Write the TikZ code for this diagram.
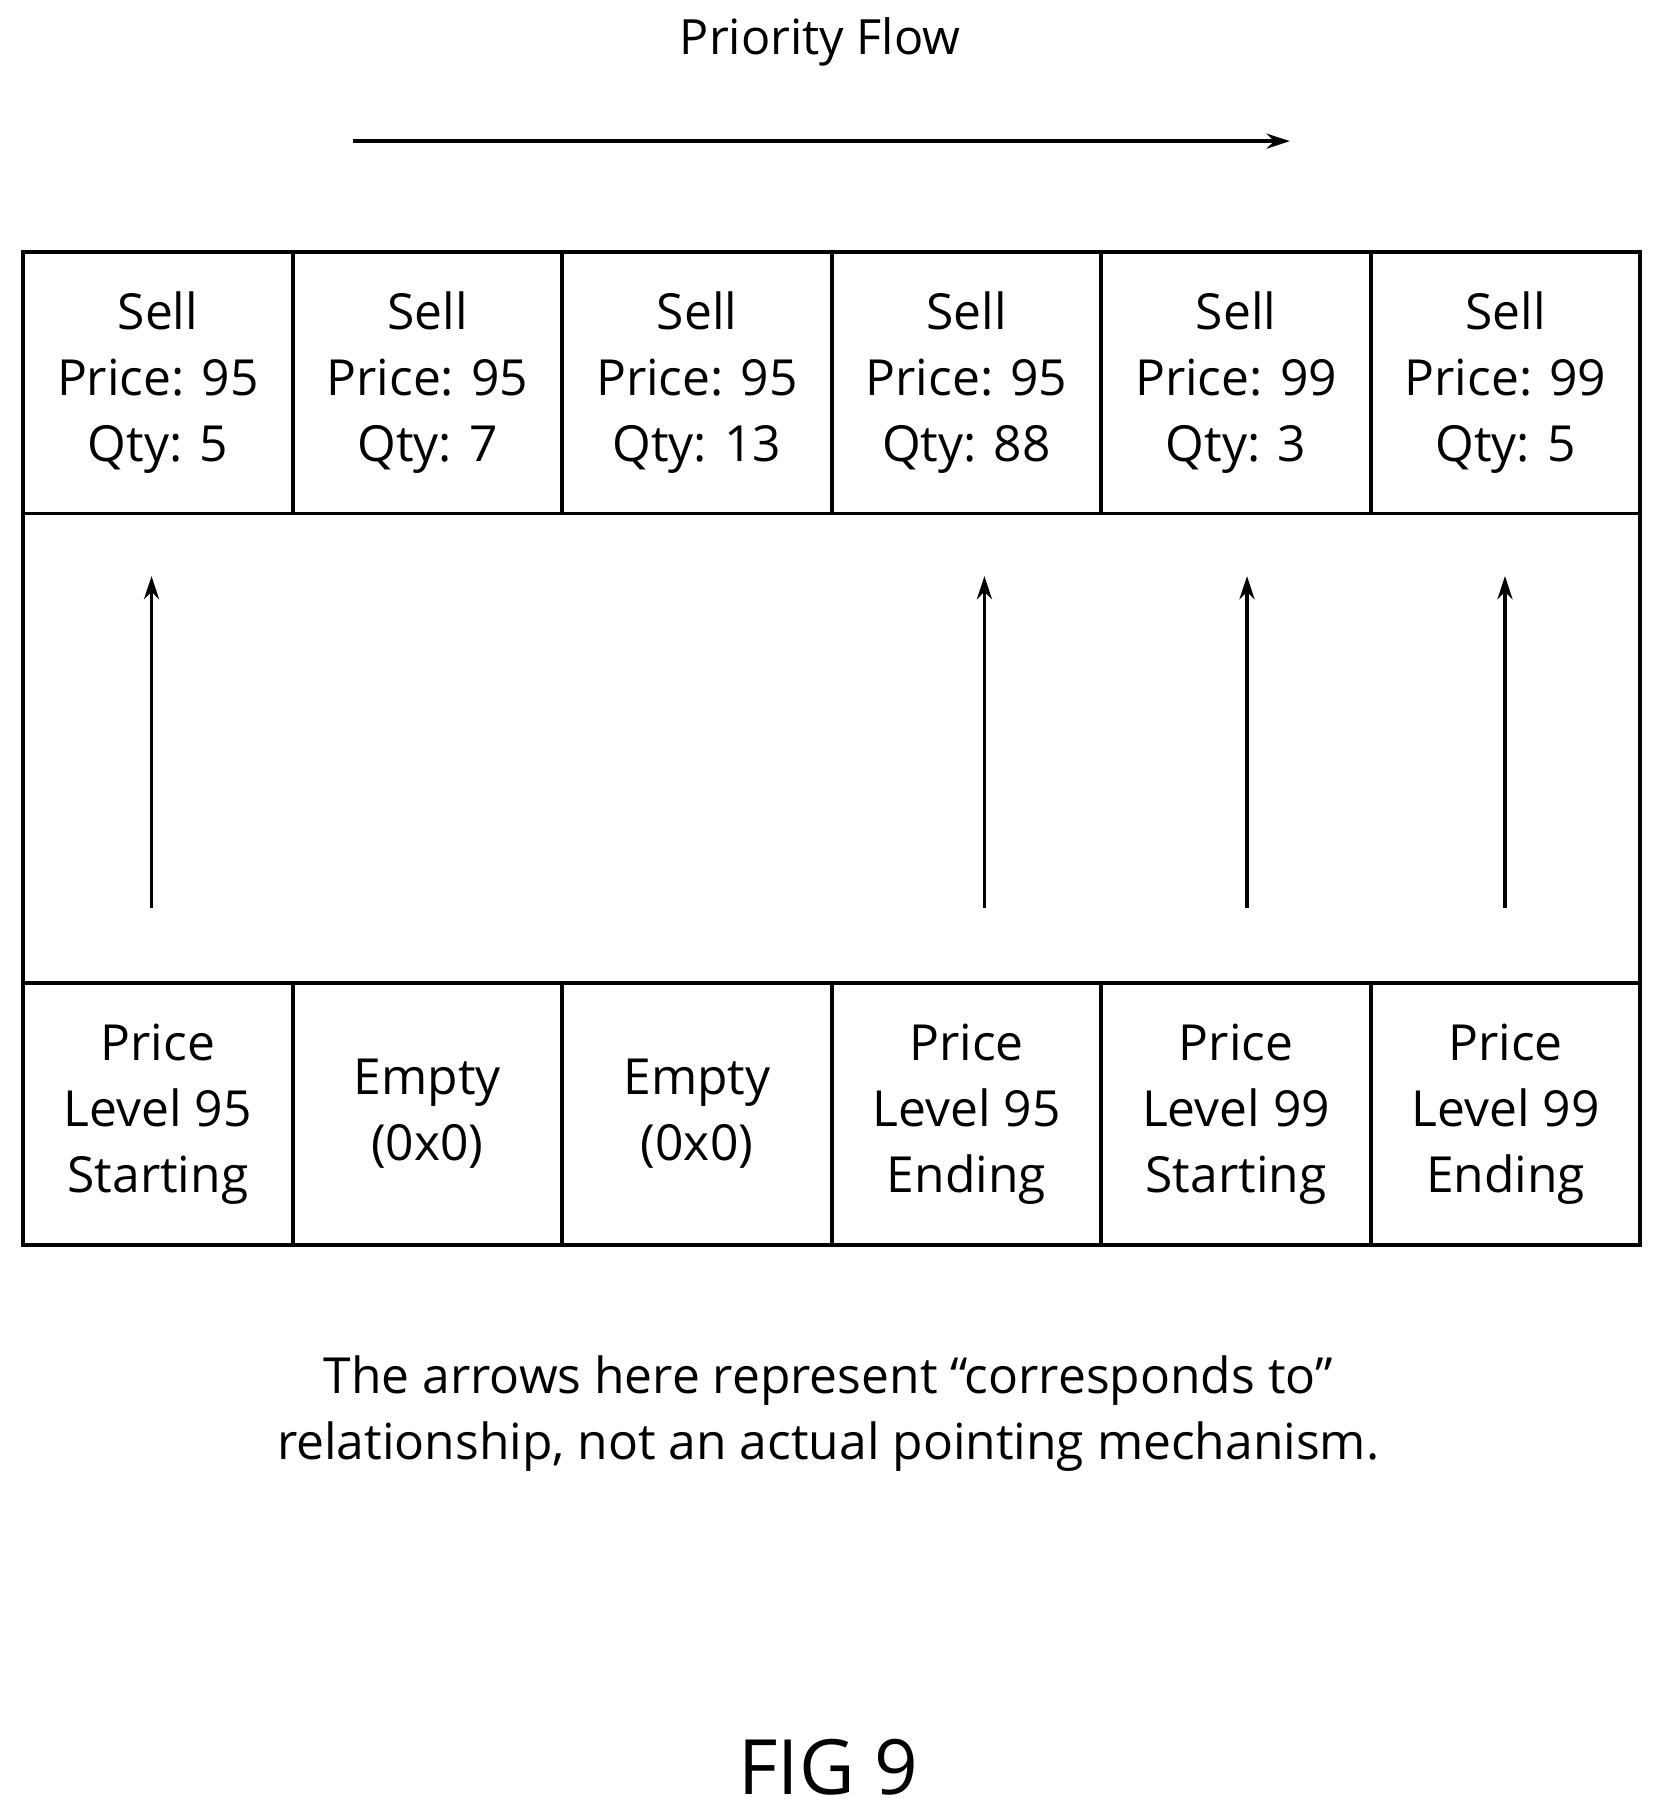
\documentclass[tikz,border=0pt]{standalone}
\usepackage{fontspec}
\setmainfont{Open Sans}
\usetikzlibrary{arrows.meta}
\begin{document}
\begin{tikzpicture}[x=1pt,y=-1pt,
  cell/.style={draw,line width=3.2pt,minimum width=233pt,minimum height=226pt,align=center,inner sep=0pt,font=\fontsize{43}{57}\selectfont},
  corr/.style={line width=3.2pt,-{Stealth[length=20pt,width=13pt]}}]
\useasboundingbox (0,0) rectangle (1440,1569);
\draw[line width=3.2pt] (20,218) rectangle (1418,1076);
\node[font=\fontsize{42}{48}\selectfont] (title) at (709,36) {Priority Flow};
\coordinate (fa) at (305,122); \coordinate (fb) at (1115,122);
\draw[corr] (fa) -- (fb);
\foreach \i/\t in {0/{Sell\\Price: 95\\Qty: 5},1/{Sell\\Price: 95\\Qty: 7},2/{Sell\\Price: 95\\Qty: 13},3/{Sell\\Price: 95\\Qty: 88},4/{Sell\\Price: 99\\Qty: 3},5/{Sell\\Price: 99\\Qty: 5}}
  \node[cell] (s\i) at (136.5+233*\i,331) {\t};
\foreach \i/\t in {0/{Price\\Level 95\\Starting},1/{Empty\\(0x0)},2/{Empty\\(0x0)},3/{Price\\Level 95\\Ending},4/{Price\\Level 99\\Starting},5/{Price\\Level 99\\Ending}}
  \node[cell] (p\i) at (136.5+233*\i,963) {\t};
\foreach \x/\n in {131/a,851/b,1078/c,1301/d}{
  \coordinate (lo\n) at (\x,785); \coordinate (hi\n) at (\x,498);
  \draw[corr] (lo\n) -- (hi\n);}
\node[align=center,font=\fontsize{43}{57}\selectfont] (cap) at (716,1222) {The arrows here represent “corresponds to”\\relationship, not an actual pointing mechanism.};
\node[font=\fontsize{66}{70}\selectfont] (fig) at (716,1528) {FIG 9};
\end{tikzpicture}
\end{document}
